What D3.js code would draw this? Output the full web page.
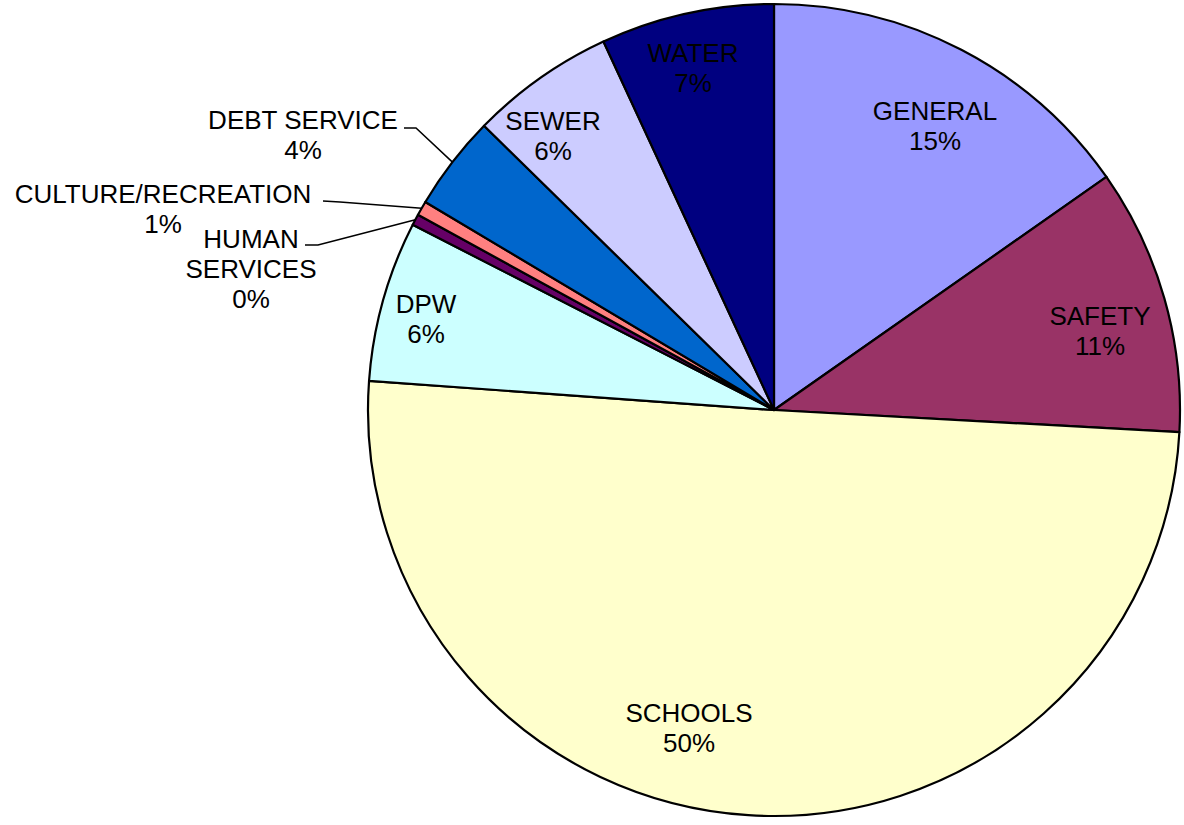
<!DOCTYPE html>
<html>
<head>
<meta charset="utf-8">
<script src="https://cdn.jsdelivr.net/npm/d3@7"></script>
<style>
  body { margin: 0; background: #fff; }
  text { font-family: "Liberation Sans", Arial, sans-serif; font-size: 26px; fill: #000; }
</style>
</head>
<body>
<div id="chart"></div>
<script>
// budget shares, clockwise from 12 o'clock
const categories = ['GENERAL', 'SAFETY', 'SCHOOLS', 'DPW', 'HUMAN SERVICES', 'CULTURE/RECREATION', 'DEBT SERVICE', 'SEWER', 'WATER'];
const shares = [15.27, 10.6, 50.28, 6.4, 0.44, 0.58, 3.78, 5.76, 6.9];
const colors = ['#9999FF', '#993366', '#FFFFCC', '#CCFFFF', '#660066', '#FF8080', '#0066CC', '#CCCCFF', '#000080'];

// label layout: text lines and centre x / first baseline of the block
const labelLayout = {
  'GENERAL': {x: 935, y: 120, lines: ['GENERAL']},
  'SAFETY': {x: 1100, y: 325, lines: ['SAFETY']},
  'SCHOOLS': {x: 689, y: 722, lines: ['SCHOOLS']},
  'DPW': {x: 426, y: 313, lines: ['DPW']},
  'HUMAN SERVICES': {x: 251, y: 248, lines: ['HUMAN', 'SERVICES'], leader: [[305, 245], [318, 245]]},
  'CULTURE/RECREATION': {x: 163, y: 203, lines: ['CULTURE/RECREATION'], leader: [[323, 201], [340, 202]]},
  'DEBT SERVICE': {x: 303, y: 129, lines: ['DEBT SERVICE'], leader: [[404, 128], [416, 128]]},
  'SEWER': {x: 553, y: 130, lines: ['SEWER']},
  'WATER': {x: 693, y: 62, lines: ['WATER']}
};

const width = 1184, height = 825;
const cx = 774, cy = 410, radius = 406;
const lineHeight = 30;

const svg = d3.select('#chart').append('svg')
    .attr('width', width)
    .attr('height', height);

const g = svg.append('g')
    .attr('transform', `translate(${cx},${cy})`);

const data = categories.map((c, i) => ({name: c, value: shares[i], color: colors[i]}));

const pie = d3.pie()
    .sort(null)
    .value(d => d.value);

const arc = d3.arc()
    .innerRadius(0)
    .outerRadius(radius);

const arcs = pie(data);

g.selectAll('path.slice')
    .data(arcs)
    .join('path')
    .attr('class', 'slice')
    .attr('d', arc)
    .attr('fill', d => d.data.color)
    .attr('stroke', '#000')
    .attr('stroke-width', 2.2)
    .attr('stroke-linejoin', 'round');

// leader lines for the thin slices, ending on the rim at the mid angle
const rimPoint = d => {
  const a = (d.startAngle + d.endAngle) / 2;
  return [cx + radius * Math.sin(a), cy - radius * Math.cos(a)];
};

svg.selectAll('polyline.leader')
    .data(arcs.filter(d => labelLayout[d.data.name].leader))
    .join('polyline')
    .attr('class', 'leader')
    .attr('points', d => labelLayout[d.data.name].leader.concat([rimPoint(d)]).map(p => p.join(',')).join(' '))
    .attr('fill', 'none')
    .attr('stroke', '#000')
    .attr('stroke-width', 1.5);

// labels: name lines then rounded percentage
const total = d3.sum(shares);
const labels = svg.selectAll('text.label')
    .data(arcs)
    .join('text')
    .attr('class', 'label')
    .attr('text-anchor', 'middle');

labels.each(function(d) {
  const lay = labelLayout[d.data.name];
  const lines = lay.lines.concat([Math.round(d.data.value / total * 100) + '%']);
  d3.select(this).selectAll('tspan')
      .data(lines)
      .join('tspan')
      .attr('x', lay.x)
      .attr('y', (l, i) => lay.y + i * lineHeight)
      .text(l => l);
});
</script>
</body>
</html>
